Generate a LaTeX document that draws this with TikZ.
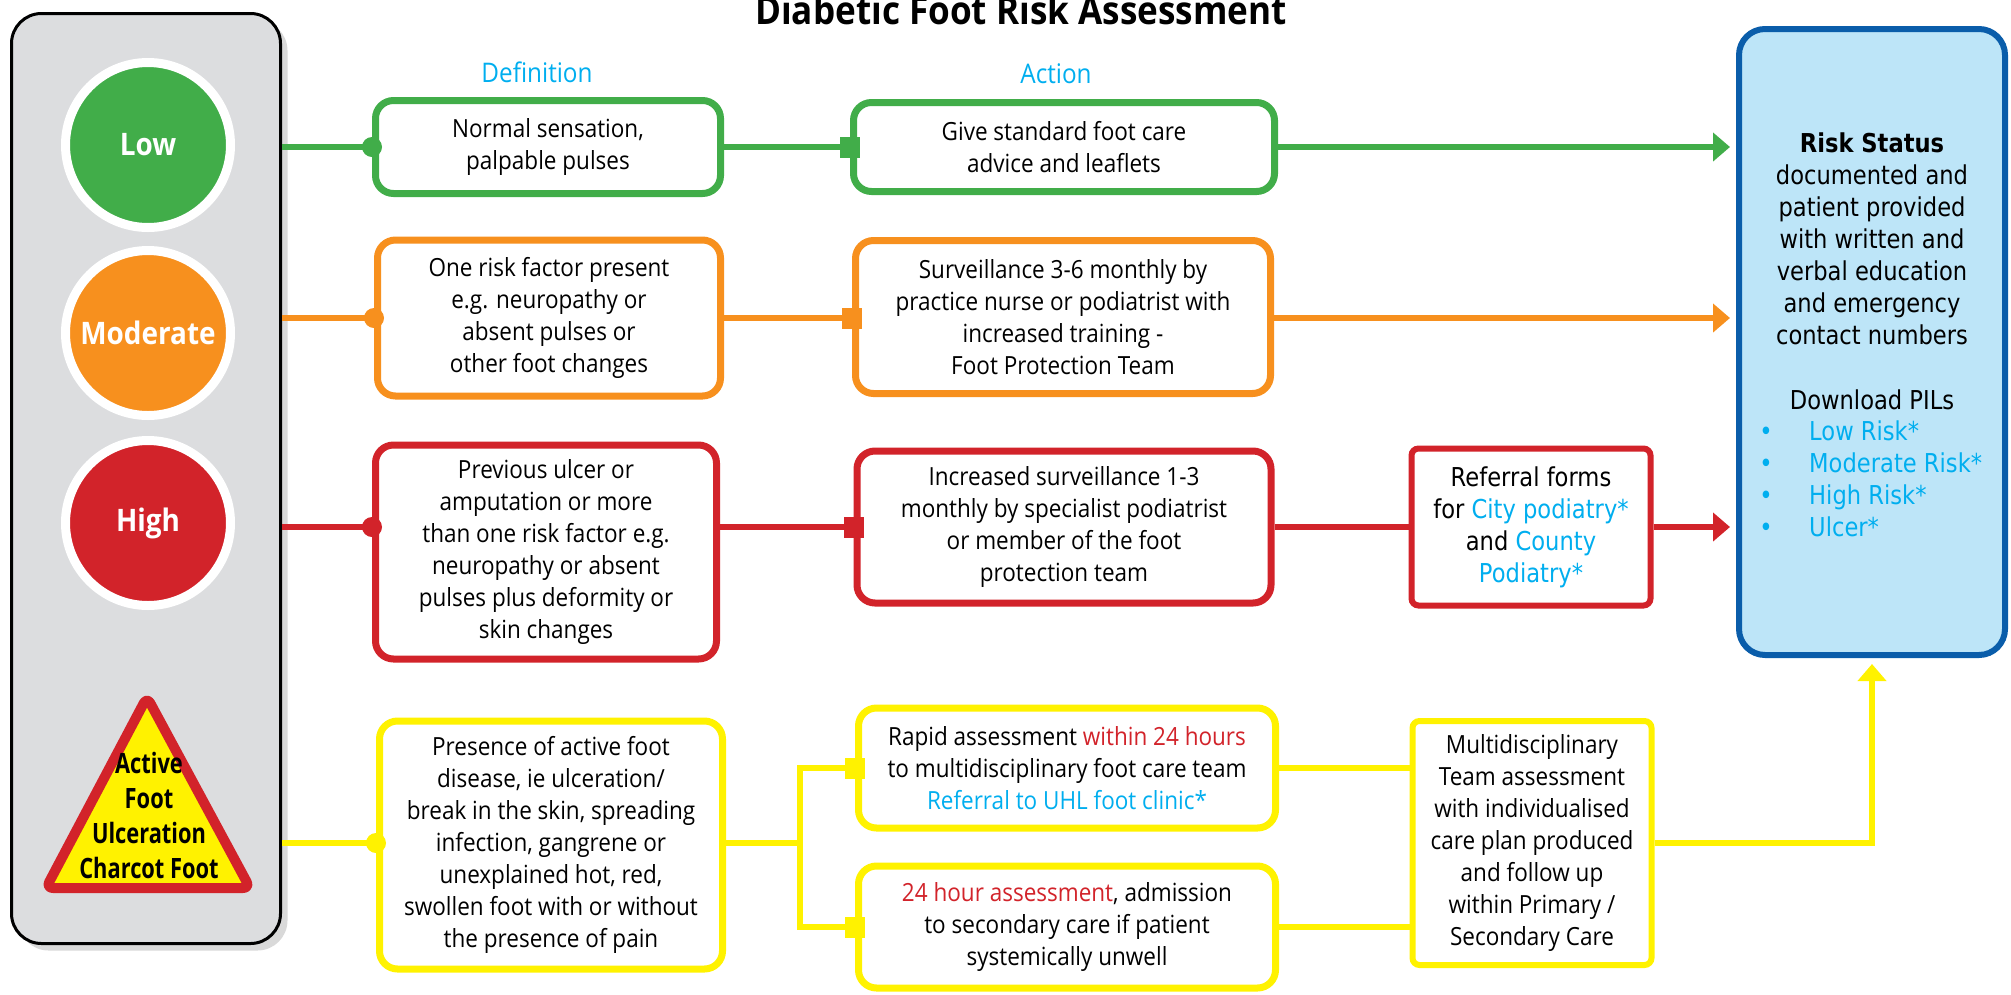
\documentclass[tikz,border=0pt]{standalone}
\usepackage{fontspec}
\setmainfont{Open Sans}[FakeStretch=0.9]
\newfontfamily\frc{Open Sans}[FakeStretch=0.78]
\newfontfamily\tah{DejaVu Sans}[FakeStretch=0.87]
\usetikzlibrary{arrows.meta,shadows}
\definecolor{cgreen}{HTML}{41AD49}
\definecolor{corange}{HTML}{F7901E}
\definecolor{cred}{HTML}{D2232A}
\definecolor{cyellow}{HTML}{FFF200}
\definecolor{cblue}{HTML}{00AEEF}
\definecolor{cdblue}{HTML}{0A5DAA}
\definecolor{clblue}{HTML}{BDE5F8}
\definecolor{cgray}{HTML}{DCDDDF}
\begin{document}
\begin{tikzpicture}[x=1pt,y=-1pt,line join=miter,
  box/.style={draw, fill=white, rounded corners=18pt, line width=7pt, align=center, inner sep=0pt,
    font=\fontsize{25}{32}\selectfont},
  sbox/.style={box, rounded corners=7pt, line width=6pt},
  circ/.style={circle, draw=white, line width=9pt, minimum size=165pt, inner sep=0pt, text=white,
    font=\fontsize{31}{31}\selectfont\bfseries},
  gline/.style={line width=5.5pt, draw=cgreen},
  oline/.style={line width=5.5pt, draw=corange},
  rline/.style={line width=5.5pt, draw=cred},
  yline/.style={line width=6.5pt, draw=cyellow},
  arr/.style={-{Triangle[length=17pt,width=28pt]}, shorten >=6pt},
  dotn/.style={circle, minimum size=20pt, inner sep=0pt},
  sqn/.style={rectangle, minimum width=20pt, minimum height=21pt, inner sep=0pt},
  hdr/.style={text=cblue, font=\fontsize{27}{27}\selectfont, inner sep=0pt},
  rtxt/.style={font=\tah\fontsize{26}{32}\selectfont, inner sep=0pt}
]
\useasboundingbox (0,0) rectangle (2011,994);

% title and headers
\node[anchor=base, font=\fontsize{39}{39}\selectfont\bfseries, inner sep=0pt] (title) at (1021,24) {Diabetic Foot Risk Assessment};
\node[hdr] (hdef) at (537,72) {Definition};
\node[hdr] (hact) at (1056,74) {Action};

% left panel
\node[draw=black, fill=cgray, line width=3pt, rounded corners=30pt, minimum width=269pt, minimum height=930pt,
  drop shadow={shadow xshift=7pt, shadow yshift=-7pt, fill=black, opacity=0.15}] (panel) at (146,478.5) {};
\node[circ, fill=cgreen] (low) at (148,145) {Low};
\node[circ, fill=corange] (mod) at (148,333) {Moderate};
\node[circ, fill=cred] (high) at (148,523) {High};
\filldraw[fill=cyellow, draw=cred, line width=10pt, rounded corners=7pt, line join=round]
  (147,697) -- (250,888) -- (46,888) -- cycle;
\node[align=center, font=\frc\fontsize{28}{35}\selectfont\bfseries, inner sep=0pt] (tri) at (149,815) {Active\\Foot\\Ulceration\\Charcot Foot};

% level coordinates
\coordinate (yg) at (0,147);
\coordinate (yo) at (0,318);
\coordinate (yr) at (0,527);
\coordinate (yy) at (0,843);
\coordinate (br) at (800,843);

% boxes (positions)
\path
  node[box, draw=cgreen, minimum width=345pt, minimum height=93pt] (d1) at (548,147) {Normal sensation,\\palpable pulses}
  node[box, draw=corange, minimum width=343pt, minimum height=156pt] (d2) at (549,318) {One risk factor present\\e.g. neuropathy or\\absent pulses or\\other foot changes}
  node[box, draw=cred, minimum width=341pt, minimum height=214pt] (d3) at (546,552) {Previous ulcer or\\amputation or more\\than one risk factor e.g.\\neuropathy or absent\\pulses plus deformity or\\skin changes}
  node[box, draw=cyellow, minimum width=343pt, minimum height=248pt] (d4) at (551,845) {Presence of active foot\\disease, ie ulceration/\\break in the skin, spreading\\infection, gangrene or\\unexplained hot, red,\\swollen foot with or without\\the presence of pain}
  node[box, draw=cgreen, minimum width=421pt, minimum height=89pt] (a1) at (1064,147) {Give standard foot care\\advice and leaflets}
  node[box, draw=corange, minimum width=415pt, minimum height=153pt] (a2) at (1063,317) {Surveillance 3-6 monthly by\\practice nurse or podiatrist with\\increased training -\\Foot Protection Team}
  node[box, draw=cred, minimum width=414pt, minimum height=152pt] (a3) at (1064,527) {Increased surveillance 1-3\\monthly by specialist podiatrist\\or member of the foot\\protection team}
  node[box, draw=cyellow, minimum width=417pt, minimum height=120pt] (a4) at (1067,768) {Rapid assessment \textcolor{cred}{within 24 hours}\\to multidisciplinary foot care team\\\textcolor{cblue}{Referral to UHL foot clinic*}}
  node[box, draw=cyellow, minimum width=417pt, minimum height=122pt] (a5) at (1067,927) {\textcolor{cred}{24 hour assessment}, admission\\to secondary care if patient\\systemically unwell}
  node[draw=cdblue, fill=clblue, line width=6pt, rounded corners=26pt, minimum width=266pt, minimum height=626pt, inner sep=0pt] (risk) at (1872,342) {};

% connectors
\draw[gline] (panel.east |- yg) -- (d1.west |- yg);
\draw[gline] (d1.east |- yg) -- (a1.west |- yg);
\draw[gline, arr] (a1.east |- yg) -- (risk.west |- yg);
\draw[oline] (panel.east |- yo) -- (d2.west |- yo);
\draw[oline] (d2.east |- yo) -- (a2.west |- yo);
\draw[oline, arr] (a2.east |- yo) -- (risk.west |- yo);
\draw[rline] (panel.east |- yr) -- (d3.west |- yr);
\draw[rline] (d3.east |- yr) -- (a3.west |- yr);
\draw[yline] (panel.east |- yy) -- (d4.west |- yy);
\draw[yline] (d4.east |- yy) -- (br);
\draw[yline] (a4.west) -| (br) |- (a5.west);

% referral and MDT boxes
\node[sbox, draw=cred, font=\tah\fontsize{26}{32}\selectfont, minimum width=239pt, minimum height=157pt] (ref) at (1531,527)
  {Referral forms\\for \textcolor{cblue}{City podiatry*}\\and \textcolor{cblue}{County}\\\textcolor{cblue}{Podiatry*}};
\node[sbox, draw=cyellow, minimum width=239pt, minimum height=244pt] (mdt) at (1532,843)
  {Multidisciplinary\\Team assessment\\with individualised\\care plan produced\\and follow up\\within Primary /\\Secondary Care};

\draw[rline] (a3.east |- yr) -- (ref.west |- yr);
\draw[rline, arr] (ref.east |- yr) -- (risk.west |- yr);
\draw[yline] (a4.east) -- (a4.east -| mdt.west);
\draw[yline] (a5.east) -- (a5.east -| mdt.west);
\draw[yline, arr] (mdt.east |- yy) -| (risk.south);

% dots and squares
\node[dotn, fill=cgreen] (p1) at (d1.west |- yg) {};
\node[dotn, fill=corange] (p2) at (d2.west |- yo) {};
\node[dotn, fill=cred] (p3) at (d3.west |- yr) {};
\node[dotn, fill=cyellow] (p4) at (d4.west |- yy) {};
\node[sqn, fill=cgreen] (q1) at (a1.west |- yg) {};
\node[sqn, fill=corange] (q2) at (a2.west |- yo) {};
\node[sqn, fill=cred] (q3) at (a3.west |- yr) {};
\node[sqn, fill=cyellow] (q4) at (a4.west) {};
\node[sqn, fill=cyellow] (q5) at (a5.west) {};

% risk status text
\node[rtxt, align=center] (rst) at (1872,239) {\textbf{Risk Status}\\documented and\\patient provided\\with written and\\verbal education\\and emergency\\contact numbers};
\node[rtxt, anchor=base] (pil) at (1872,409) {Download PILs};
\node[rtxt, anchor=base, text=cblue] (b1) at (1766,440) {•};
\node[rtxt, anchor=base, text=cblue] (b2) at (1766,472) {•};
\node[rtxt, anchor=base, text=cblue] (b3) at (1766,504) {•};
\node[rtxt, anchor=base, text=cblue] (b4) at (1766,536) {•};
\node[rtxt, anchor=base west, text=cblue] (l1) at (1809,440) {Low Risk*};
\node[rtxt, anchor=base west, text=cblue] (l2) at (1809,472) {Moderate Risk*};
\node[rtxt, anchor=base west, text=cblue] (l3) at (1809,504) {High Risk*};
\node[rtxt, anchor=base west, text=cblue] (l4) at (1809,536) {Ulcer*};
\end{tikzpicture}
\end{document}
